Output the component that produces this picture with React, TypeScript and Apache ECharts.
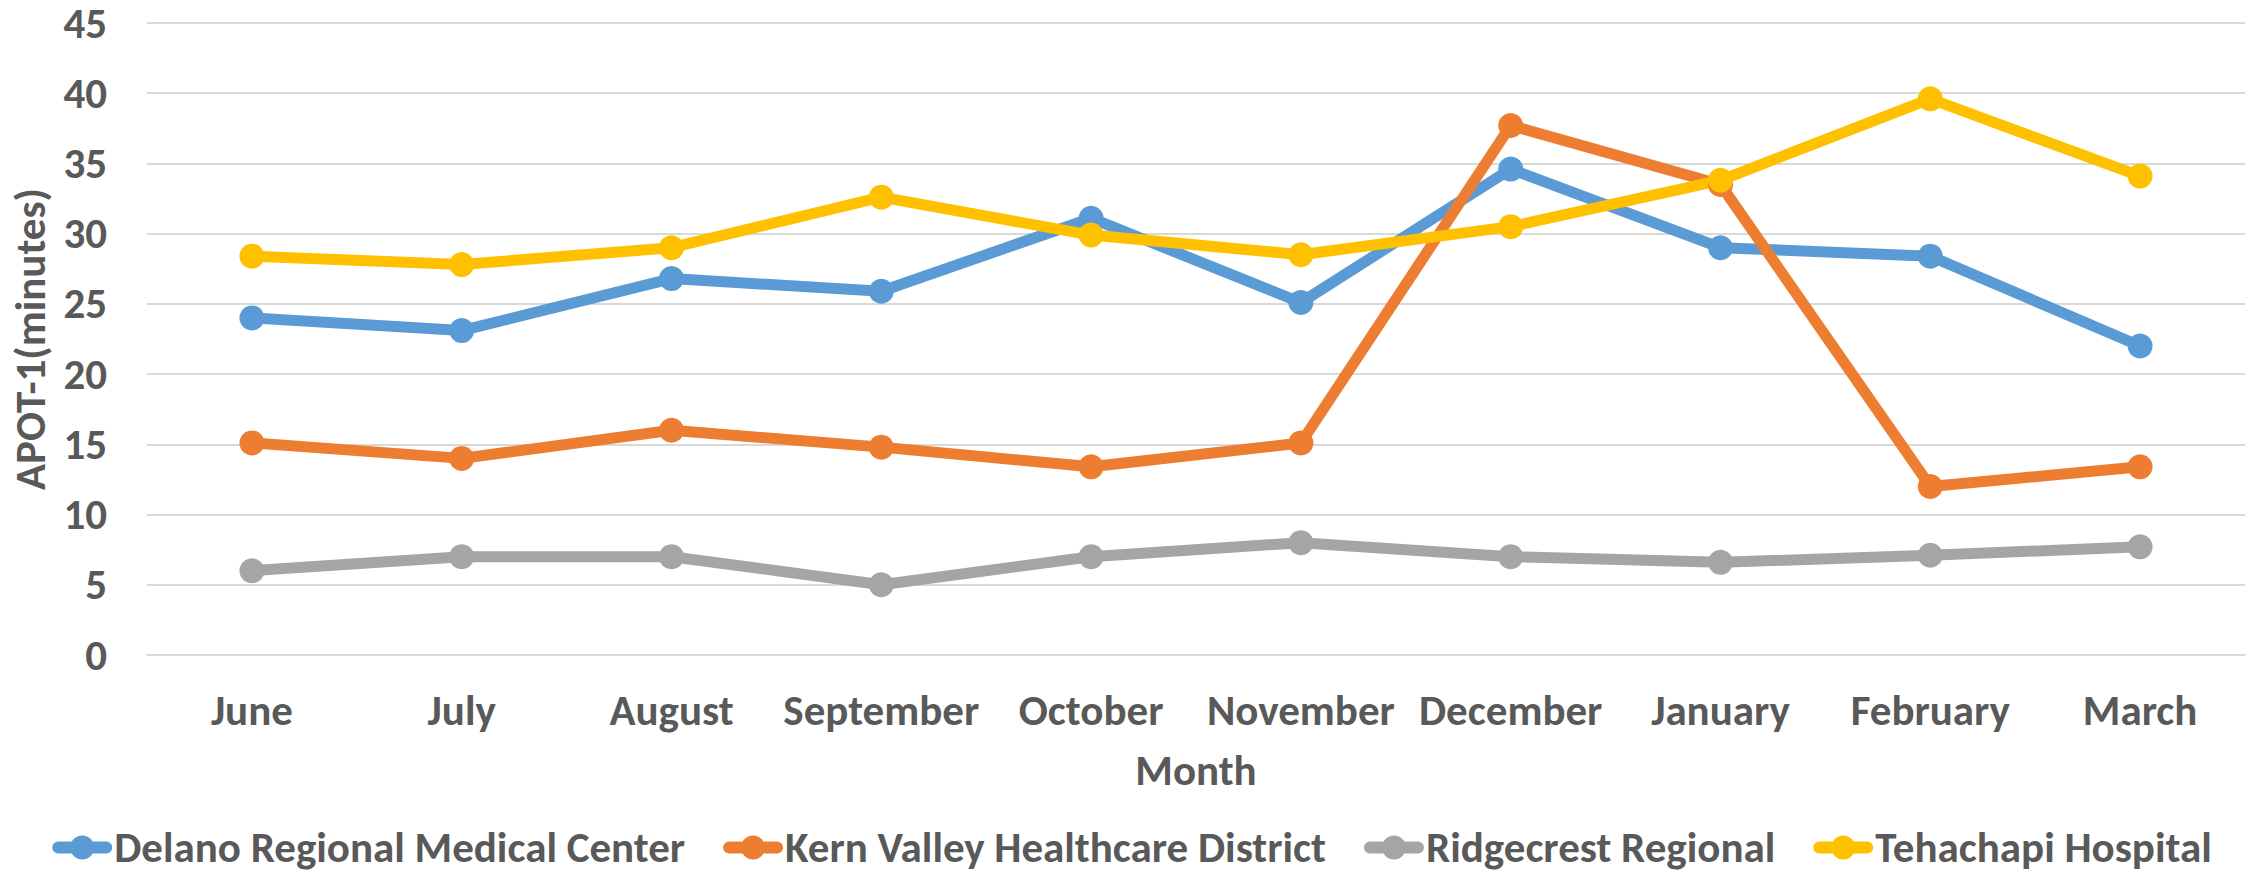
import React, { useEffect, useRef } from "react";
import * as echarts from "echarts";

const months = ["June", "July", "August", "September", "October", "November", "December", "January", "February", "March"];
const seriesNames = ["Delano Regional Medical Center", "Kern Valley Healthcare District", "Ridgecrest Regional", "Tehachapi Hospital"];
const delano = [24.0, 23.1, 26.8, 25.9, 31.1, 25.1, 34.6, 29.0, 28.4, 22.0];
const kern = [15.1, 14.0, 16.0, 14.8, 13.4, 15.1, 37.7, 33.5, 12.0, 13.4];
const ridgecrest = [6.0, 7.0, 7.0, 5.0, 7.0, 8.0, 7.0, 6.6, 7.1, 7.7];
const tehachapi = [28.4, 27.8, 29.0, 32.6, 29.9, 28.5, 30.5, 33.8, 39.6, 34.1];
const colors = ["#5B9BD5", "#ED7D31", "#A5A5A5", "#FFC000"];

const FONT = "Carlito, Lato, 'Open Sans', sans-serif";
const TEXT = "#595959";
const FS = 43;
const LEGEND_ICON =
  "path://M6,6 L54,6 A6,6 0 0,1 54,18 L6,18 A6,6 0 0,1 6,6 Z M18,12 A12,12 0 1,1 42,12 A12,12 0 1,1 18,12 Z";

export default function App() {
  const ref = useRef<HTMLDivElement>(null);
  useEffect(() => {
    document.body.style.margin = "0";
    const chart = echarts.init(ref.current!, null, { renderer: "svg" });
    const data = [delano, kern, ridgecrest, tehachapi];
    chart.setOption({
      animation: false,
      color: colors,
      textStyle: { fontFamily: FONT },
      grid: { left: 147, right: 19, top: 23, bottom: 218, containLabel: false },
      xAxis: {
        type: "category",
        data: months,
        boundaryGap: true,
        axisLine: { show: true, lineStyle: { color: "#D9D9D9", width: 2 } },
        axisTick: { show: false },
        axisLabel: { color: TEXT, fontSize: FS, fontWeight: "bold", fontFamily: FONT, margin: 34, interval: 0 },
        name: "Month",
        nameLocation: "middle",
        nameGap: 94,
        nameTextStyle: { color: TEXT, fontSize: FS, fontWeight: "bold", fontFamily: FONT },
      },
      yAxis: {
        type: "value",
        min: 0,
        max: 45,
        interval: 5,
        axisLine: { show: false },
        axisTick: { show: false },
        splitLine: { lineStyle: { color: "#D9D9D9", width: 2 } },
        axisLabel: { color: TEXT, fontSize: FS, fontWeight: "bold", fontFamily: FONT, margin: 40, lineHeight: 40 },
        name: "APOT-1(minutes)",
        nameLocation: "middle",
        nameGap: 95,
        nameTextStyle: { color: TEXT, fontSize: FS, fontWeight: "bold", fontFamily: FONT },
      },
      legend: {
        top: 821,
        left: "center",
        itemWidth: 60,
        itemHeight: 24,
        itemGap: 38,
        icon: LEGEND_ICON,
        textStyle: { color: TEXT, fontSize: FS, fontWeight: "bold", fontFamily: FONT, padding: [0, 0, 0, -3] },
        data: seriesNames,
      },
      series: seriesNames.map((name, i) => ({
        name,
        type: "line",
        data: data[i],
        symbol: "circle",
        symbolSize: 25,
        lineStyle: { width: 11, color: colors[i] },
        itemStyle: { color: colors[i] },
      })),
    });
    return () => chart.dispose();
  }, []);
  return <div ref={ref} style={{ position: "absolute", left: 0, top: 0, width: 2264, height: 873 }} />;
}
